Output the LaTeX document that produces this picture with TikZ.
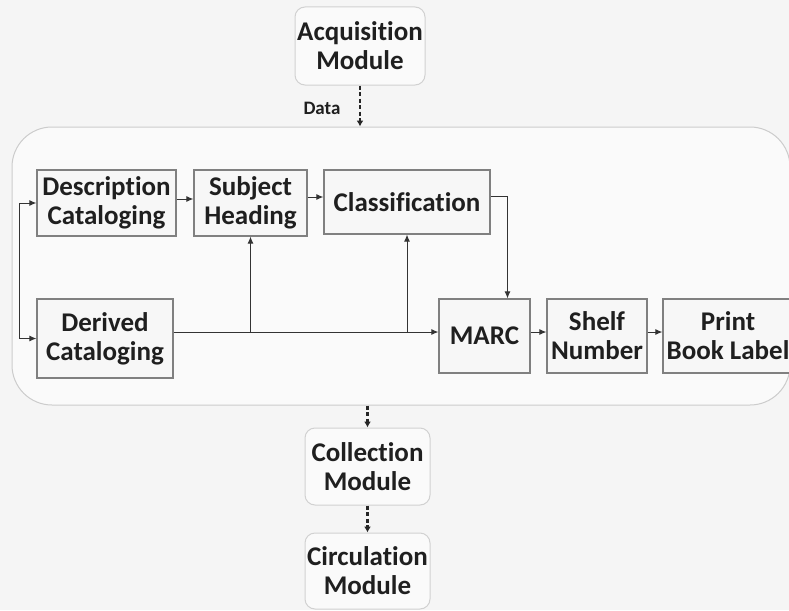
\documentclass[tikz,border=0pt]{standalone}
\usepackage{fontspec}
\setmainfont[Ligatures=NoCommon]{Carlito}
\usetikzlibrary{arrows.meta}
\begin{document}
\begin{tikzpicture}[x=1pt,y=-1pt,
  every node/.style={font=\bfseries\fontsize{27}{29}\selectfont, text=black!88, align=center, inner sep=0pt},
  box/.style={draw=black!50, line width=1.2pt, fill=white!97!black},
  mod/.style={draw=black!18, line width=1pt, fill=white!98!black, rounded corners=10pt},
  cont/.style={draw=black!20, line width=1pt, fill=white!98!black, rounded corners=40pt},
  arr/.style={draw=black!80, line width=1pt, -{Latex[length=7pt,width=6pt]}},
  barr/.style={draw=black!80, line width=1pt, {Latex[length=7pt,width=6pt]}-{Latex[length=7pt,width=6pt]}},
  darr/.style={draw=black!85, line width=2.5pt, dash pattern=on 4pt off 2.5pt, -{Latex[length=6pt,width=7pt]}}]
\useasboundingbox[fill=white!96!black] (0,0) rectangle (789,610);
\node[cont, minimum width=778, minimum height=278] (cont) at (401,266) {};
\node[mod, minimum width=130, minimum height=78] (acq) at (360,46) {Acquisition\\Module};
\node[box, minimum width=139, minimum height=66] (desc) at (106.5,203) {Description\\Cataloging};
\node[box, minimum width=113, minimum height=66] (subj) at (250.5,203) {Subject\\Heading};
\node[box, minimum width=166, minimum height=64] (cls) at (407,202) {Classification};
\node[box, minimum width=136, minimum height=79] (der) at (105,338.5) {Derived\\Cataloging};
\node[box, minimum width=91, minimum height=74] (marc) at (484.5,336) {MARC};
\node[box, minimum width=100, minimum height=74] (shelf) at (597,336) {Shelf\\Number};
\node[box, minimum width=130, minimum height=74] (print) at (728,336) {Print\\Book Label};
\node[mod, minimum width=125, minimum height=77] (coll) at (367.5,466.5) {Collection\\Module};
\node[mod, minimum width=125, minimum height=76] (circ) at (367.5,571) {Circulation\\Module};
\node[font=\bfseries\fontsize{19}{21}\selectfont] (data) at (322,108) {Data};
% connectors
\draw[darr] (acq.south) -- (acq.south |- cont.north);
\draw[barr] (desc.west) -- ++(-17,0) |- (der.west);
\draw[arr] ([yshift=4pt]desc.east) -- ([yshift=4pt]desc.east -| subj.west);
\draw[arr] ([yshift=6pt]subj.east) -- ([yshift=6pt]subj.east -| cls.west);
\draw[arr] ([yshift=4pt]der.east |- marc.west) -- ([yshift=4pt]marc.west);
\draw[arr] ([yshift=4pt]subj.south |- marc.west) -- (subj.south);
\draw[arr] ([yshift=4pt]cls.south |- marc.west) -- (cls.south);
\draw[arr] ([yshift=6pt]cls.east) -| ([xshift=23pt]marc.north);
\draw[arr] ([yshift=4pt]marc.east) -- ([yshift=4pt]shelf.west);
\draw[arr] ([yshift=4pt]shelf.east) -- ([yshift=4pt]print.west);
\draw[darr] (coll.north |- cont.south) -- (coll.north);
\draw[darr] (coll.south) -- (circ.north);
\end{tikzpicture}
\end{document}
